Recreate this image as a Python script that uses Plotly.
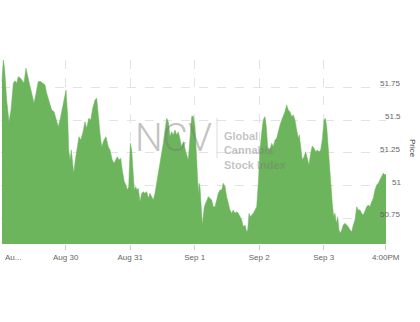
import plotly.graph_objects as go

# time position in trading days from Aug 29 (0) to Sep 3 close
t = [0.012, 0.033, 0.054, 0.085, 0.121, 0.152, 0.188, 0.214, 0.240, 0.265,
     0.302, 0.333, 0.353, 0.384, 0.405, 0.436, 0.473, 0.509, 0.540, 0.575,
     0.612, 0.643, 0.679, 0.705, 0.746, 0.783, 0.819, 0.850, 0.885, 0.912,
     0.947, 0.974, 1.005, 1.031, 1.047, 1.067, 1.087, 1.109, 1.124, 1.149,
     1.180, 1.206, 1.233, 1.264, 1.299, 1.326, 1.357, 1.388, 1.419, 1.454,
     1.481, 1.505, 1.532, 1.558, 1.594, 1.625, 1.660, 1.687, 1.722, 1.749,
     1.775, 1.800, 1.826, 1.853, 1.877, 1.909, 1.935, 1.955, 1.977, 2.002,
     2.023, 2.043, 2.064, 2.085, 2.105, 2.126, 2.152, 2.178, 2.203, 2.229,
     2.256, 2.281, 2.307, 2.333, 2.358, 2.384, 2.411, 2.447, 2.478, 2.513,
     2.540, 2.566, 2.591, 2.617, 2.643, 2.668, 2.695, 2.721, 2.746, 2.772,
     2.798, 2.823, 2.850, 2.876, 2.901, 2.927, 2.953, 2.978, 3.005, 3.031,
     3.057, 3.067, 3.082, 3.098, 3.118, 3.149, 3.186, 3.211, 3.237, 3.264,
     3.288, 3.315, 3.341, 3.366, 3.392, 3.419, 3.443, 3.470, 3.496, 3.521,
     3.547, 3.574, 3.598, 3.625, 3.651, 3.676, 3.702, 3.729, 3.753, 3.780,
     3.806, 3.822, 3.842, 3.862, 3.884, 3.909, 3.935, 3.961, 3.986, 4.012,
     4.038, 4.063, 4.090, 4.110, 4.132, 4.152, 4.172, 4.194, 4.219, 4.245,
     4.271, 4.296, 4.323, 4.349, 4.374, 4.400, 4.426, 4.451, 4.477, 4.504,
     4.529, 4.555, 4.581, 4.606, 4.622, 4.648, 4.668, 4.695, 4.721, 4.746,
     4.772, 4.798, 4.823, 4.850, 4.876, 4.901, 4.927, 4.953, 4.978, 5.005,
     5.025, 5.047, 5.071, 5.093, 5.113, 5.133, 5.155, 5.175, 5.195, 5.217,
     5.237, 5.257, 5.279, 5.304, 5.330, 5.357, 5.381, 5.408, 5.434, 5.459,
     5.485, 5.512, 5.536, 5.563, 5.588, 5.614, 5.640, 5.667, 5.691, 5.717,
     5.744, 5.769, 5.795, 5.822, 5.846, 5.872, 5.898, 5.924, 5.950, 5.966]

price = [51.793, 51.964, 51.882, 51.653, 51.487, 51.577, 51.781, 51.800, 51.781, 51.831,
         51.819, 51.800, 51.781, 51.895, 51.857, 51.781, 51.704, 51.628, 51.704, 51.793,
         51.793, 51.781, 51.768, 51.704, 51.640, 51.577, 51.564, 51.500, 51.449, 51.500,
         51.602, 51.653, 51.729, 51.526, 51.271, 51.195, 51.271, 51.170, 51.094, 51.195,
         51.297, 51.373, 51.348, 51.399, 51.487, 51.437, 51.513, 51.500, 51.590, 51.653,
         51.666, 51.526, 51.399, 51.297, 51.348, 51.373, 51.297, 51.271, 51.195, 51.170,
         51.195, 51.220, 51.195, 51.208, 51.119, 51.029, 51.004, 50.966, 50.991, 51.323,
         51.271, 51.068, 50.966, 50.991, 50.966, 50.979, 50.877, 50.941, 50.953, 50.941,
         50.953, 50.903, 50.941, 50.915, 50.890, 50.941, 51.017, 51.119, 51.220, 51.323,
         51.424, 51.513, 51.487, 51.373, 51.411, 51.386, 51.424, 51.386, 51.411, 51.348,
         51.297, 51.335, 51.271, 51.233, 51.195, 51.373, 51.526, 51.531, 51.449, 51.195,
         50.928, 51.017, 50.991, 50.865, 50.699, 50.839, 50.890, 50.915, 50.903, 50.890,
         50.839, 50.839, 50.890, 50.941, 50.966, 50.966, 51.017, 50.991, 50.915, 50.865,
         50.813, 50.788, 50.813, 50.788, 50.800, 50.788, 50.762, 50.737, 50.686, 50.699,
         50.648, 50.661, 50.788, 50.762, 50.775, 50.788, 50.813, 50.839, 51.017, 51.271,
         51.399, 51.500, 51.526, 51.449, 51.297, 51.271, 51.284, 51.323, 51.297, 51.348,
         51.361, 51.424, 51.462, 51.500, 51.526, 51.564, 51.615, 51.577, 51.564, 51.526,
         51.539, 51.500, 51.424, 51.361, 51.386, 51.246, 51.195, 51.220, 51.258, 51.208,
         51.157, 51.246, 51.302, 51.284, 51.258, 51.271, 51.258, 51.271, 51.348, 51.500,
         51.513, 51.449, 51.271, 51.094, 50.991, 50.865, 50.762, 50.788, 50.712, 50.762,
         50.661, 50.636, 50.661, 50.699, 50.712, 50.699, 50.686, 50.661, 50.648, 50.699,
         50.737, 50.839, 50.813, 50.813, 50.788, 50.775, 50.813, 50.839, 50.852, 50.839,
         50.877, 50.903, 50.966, 51.004, 51.017, 51.042, 51.068, 51.094, 51.081, 51.088]

x_tick_vals = [1, 2, 3, 4, 5, 5.961]
x_tick_text = ["Aug 30", "Aug 31", "Sep 1", "Sep 2", "Sep 3", "4:00PM"]
first_label = "Au..."
y_tick_vals = [50.75, 51.0, 51.25, 51.5, 51.75]
y_tick_text = ["50.75", "51", "51.25", "51.5", "51.75"]

X_RANGE = [-0.003, 5.966]
Y_RANGE = [50.554, 51.958]

GREEN = "#6cb55c"
GRID = "#e3e3e3"
LABEL = "#666666"
WM = "rgba(120,120,120,0.45)"

fig = go.Figure()

fig.add_trace(go.Scatter(
    x=t, y=price, mode="lines", fill="tozeroy",
    line=dict(color=GREEN, width=0.5), fillcolor=GREEN,
    hoverinfo="skip", showlegend=False))

# semi-transparent watermark drawn over the area
fig.add_trace(go.Scatter(
    x=[2.671], y=[51.340], mode="text", text=["NCV"],
    textfont=dict(family="Roboto", size=39, color=WM, weight=300),
    textposition="middle center", hoverinfo="skip", showlegend=False))
fig.add_trace(go.Scatter(
    x=[3.453], y=[51.258], mode="text", text=["Global<br>Cannabis<br>Stock Index"],
    textfont=dict(family="Liberation Sans", size=11, color=WM, weight="bold"),
    textposition="middle right", hoverinfo="skip", showlegend=False))
fig.add_trace(go.Scatter(
    x=[3.346, 3.346], y=[51.516, 51.210], mode="lines",
    line=dict(color="rgba(120,120,120,0.25)", width=1), hoverinfo="skip",
    showlegend=False))

annotations = [dict(
    text=first_label, xref="paper", yref="paper", x=0, y=0,
    xanchor="left", yanchor="middle", xshift=2, yshift=-13, showarrow=False,
    font=dict(family="Liberation Sans", size=8, color=LABEL))]
for v, s in zip(y_tick_vals, y_tick_text):
    annotations.append(dict(
        text=s, xref="paper", yref="y", x=1, y=v, xanchor="right",
        yanchor="middle", xshift=17, yshift=3.5, showarrow=False,
        font=dict(family="Liberation Sans", size=8, color=LABEL)))
annotations.append(dict(
    text="Price", xref="paper", yref="paper", x=1, y=0.5, xanchor="center",
    yanchor="middle", xshift=27, yshift=4, textangle=90, showarrow=False,
    font=dict(family="Liberation Sans", size=8, color="#444444")))

fig.update_layout(
    width=420, height=322,
    margin=dict(l=1, r=34, t=60, b=78),
    paper_bgcolor="white", plot_bgcolor="white",
    annotations=annotations,
    xaxis=dict(range=X_RANGE, tickvals=x_tick_vals, ticktext=x_tick_text,
               showgrid=True, gridcolor=GRID, griddash="dash", gridwidth=1,
               zeroline=False, showline=False, ticks="outside", ticklen=5,
               tickcolor="#cccccc",
               tickfont=dict(family="Liberation Sans", size=8, color=LABEL)),
    yaxis=dict(range=Y_RANGE, tickvals=y_tick_vals, showticklabels=False,
               showgrid=True, gridcolor=GRID, griddash="dash", gridwidth=1,
               zeroline=False, showline=False, side="right"),
)

fig.write_html("out.html")
